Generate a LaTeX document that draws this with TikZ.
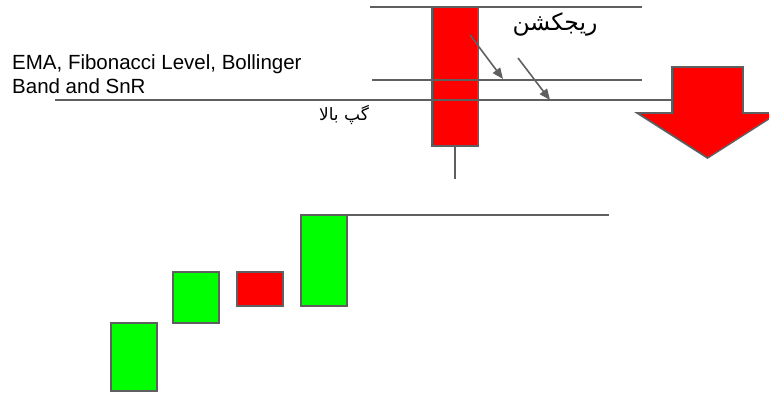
\documentclass[tikz,border=0pt]{standalone}
\usepackage{fontspec}
\setmainfont{Liberation Sans}
\newfontfamily\arabicfont[Script=Arabic]{DejaVu Sans}
\TeXXeTstate=1
\usepackage{tikz}
\usetikzlibrary{arrows.meta,positioning}
\definecolor{candlered}{RGB}{255,0,0}
\definecolor{candlegreen}{RGB}{0,255,0}
\definecolor{linegray}{RGB}{95,95,95}

\begin{document}
\begin{tikzpicture}[x=1pt,y=-1pt,
  bear/.style={draw=linegray, fill=candlered, line width=1.6pt,
               minimum width=46pt, inner sep=0pt, outer sep=0pt},
  bull/.style={draw=linegray, fill=candlegreen, line width=1.6pt,
               minimum width=46pt, inner sep=0pt, outer sep=0pt},
  lvl/.style={draw=linegray, line width=1.6pt},
  ar/.style={-{Triangle[length=11pt,width=9pt]}, linegray, line width=1.6pt}
]
\useasboundingbox (0,0) rectangle (769,394);

% Rejection candle
\node[bear, minimum height=139pt] (rc) at (455,76.5) {};
\draw[lvl] (rc.south) -- ++(0,33) coordinate (wick);

% Levels
\draw[lvl] (370,7) coordinate (t1) -- (642,7) coordinate (t2);
\draw[lvl] (372,80) coordinate (m1) -- (642,80) coordinate (m2);
\draw[lvl] (55,100) coordinate (g1) -- (672,100) coordinate (g2);

% Labels
\node[anchor=north west, align=left, inner sep=0pt,
      font=\fontsize{20.5}{24.5}\selectfont] (ema) at (12,54)
  {EMA, Fibonacci Level, Bollinger\\Band and SnR};
\node[font=\fontsize{23.5}{28}\selectfont] (rej) at (555,24)
  {\arabicfont\beginR ریجکشن\endR};
\node[font=\fontsize{17}{20}\selectfont] (gap) at (344,115)
  {\arabicfont\beginR گپ بالا\endR};

% Arrows to levels
\coordinate (a1) at (470,35);
\coordinate (a2) at (503,79);
\coordinate (b1) at (518,58);
\coordinate (b2) at (550,100);
\draw[ar] (a1) -- (a2);
\draw[ar] (b1) -- (b2);

% Down arrow
\draw[draw=linegray, fill=candlered, line width=1.6pt]
  (672,67) -- (743,67) -- (743,113) -- (778,113) -- (707.5,158)
  -- (637,113) -- (672,113) -- cycle;

% Lower candles
\node[bull, minimum height=68pt] (c1) at (134,357) {};
\node[bull, minimum height=51pt] (c2) at (196,297.5) {};
\node[bear, minimum height=34pt] (c3) at (260,289) {};
\node[bull, minimum height=91pt] (c4) at (324,260.5) {};
\draw[lvl] (c4.north east) -- (609,215) coordinate (hi);
\end{tikzpicture}
\end{document}
